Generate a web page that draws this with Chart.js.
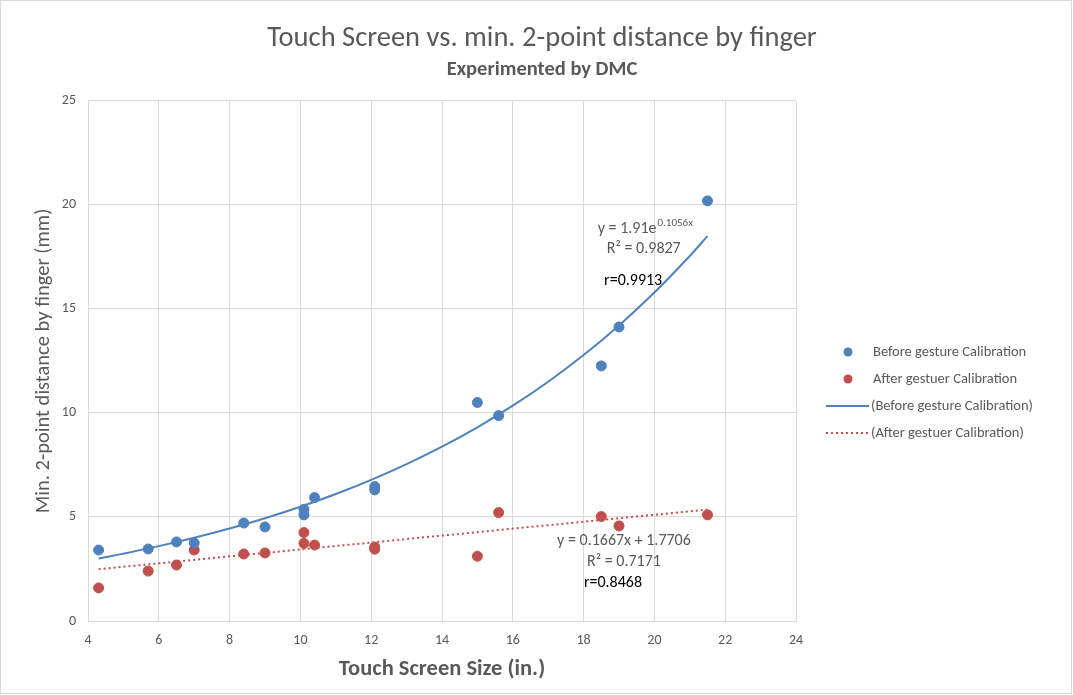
<!DOCTYPE html>
<html>
<head>
<meta charset="utf-8">
<script src="https://cdn.jsdelivr.net/npm/chart.js@4.4.1/dist/chart.umd.min.js"></script>
<style>
  html, body { margin: 0; padding: 0; background: #fff; }
  #wrap { width: 1073px; height: 695px; }
</style>
</head>
<body>
<div id="wrap"><canvas id="myChart" width="1073" height="695"></canvas></div>
<script>
const FONT = "Carlito, Lato, 'Noto Sans', sans-serif";

// screen sizes (in.) - same for both series
const sizes = [4.3, 5.7, 6.5, 7.0, 8.4, 9.0, 10.1, 10.1, 10.4, 12.1, 12.1, 15.0, 15.6, 18.5, 19.0, 21.5];
const beforeVals = [3.41, 3.46, 3.80, 3.75, 4.71, 4.52, 5.37, 5.10, 5.93, 6.46, 6.30, 10.50, 9.87, 12.26, 14.13, 20.19];
const afterVals = [1.59, 2.40, 2.69, 3.41, 3.22, 3.27, 4.25, 3.73, 3.65, 3.55, 3.45, 3.11, 5.21, 5.02, 4.57, 5.10];

const xTicks = [4, 6, 8, 10, 12, 14, 16, 18, 20, 22, 24];
const yTicks = [0, 5, 10, 15, 20, 25];

// trendline coefficients as printed on the chart
const expA = 1.91, expB = 0.1056;
const linM = 0.1667, linC = 1.7706;
const trendX = [4.3, 5, 6, 7, 8, 9, 10, 11, 12, 13, 14, 15, 16, 17, 18, 19, 20, 21, 21.5];

const blue = "#4f81bd";
const red = "#c0504d";
const gray = "#595959";

const toPts = (xs, ys) => xs.map((x, i) => ({ x: x, y: ys[i] }));

const expLine = trendX.map(x => ({ x: x, y: expA * Math.exp(expB * x) }));
const linLine = [4.3, 21.5].map(x => ({ x: x, y: linM * x + linC }));

const notes = [
  { x: 19.73, y: 18.85, text: "y = 1.91e", sup: "0.1056x", color: gray, size: 16 },
  { x: 19.7, y: 17.88, text: "R\u00b2 = 0.9827", color: gray, size: 16 },
  { x: 19.4, y: 16.35, text: "r=0.9913", color: "#000", size: 16 },
  { x: 19.14, y: 3.85, text: "y = 0.1667x + 1.7706", color: gray, size: 16 },
  { x: 19.14, y: 2.84, text: "R\u00b2 = 0.7171", color: gray, size: 16 },
  { x: 18.83, y: 1.83, text: "r=0.8468", color: "#000", size: 16 },
];

const legendItems = [
  { label: "Before gesture Calibration", kind: "dot", color: blue },
  { label: "After gestuer Calibration", kind: "dot", color: red },
  { label: "(Before gesture Calibration)", kind: "line", color: blue },
  { label: "(After gestuer Calibration)", kind: "dots", color: red },
];

const extras = {
  id: "extras",
  beforeDraw(chart) {
    const ctx = chart.ctx;
    ctx.save();
    ctx.fillStyle = "#fff";
    ctx.fillRect(0, 0, chart.width, chart.height);
    ctx.strokeStyle = "#d9d9d9";
    ctx.lineWidth = 1;
    ctx.strokeRect(0.5, 0.5, chart.width - 2, chart.height - 2);
    ctx.restore();
  },
  afterDatasetsDraw(chart) {
    const ctx = chart.ctx;
    const xs = chart.scales.x, ys = chart.scales.y;
    ctx.save();
    ctx.textBaseline = "middle";
    notes.forEach(n => {
      const px = xs.getPixelForValue(n.x);
      const py = ys.getPixelForValue(n.y);
      ctx.font = n.size + "px " + FONT;
      const w1 = ctx.measureText(n.text).width;
      let w2 = 0;
      if (n.sup) {
        ctx.font = "11px " + FONT;
        w2 = ctx.measureText(n.sup).width;
      }
      const left = px - (w1 + w2) / 2;
      ctx.fillStyle = n.color;
      ctx.textAlign = "left";
      ctx.font = n.size + "px " + FONT;
      ctx.fillText(n.text, left, py);
      if (n.sup) {
        ctx.font = "11px " + FONT;
        ctx.fillText(n.sup, left + w1 + 1, py - 6);
      }
    });
    ctx.restore();
  },
  afterDraw(chart) {
    const ctx = chart.ctx;
    ctx.save();
    ctx.font = "14.5px " + FONT;
    ctx.textBaseline = "middle";
    ctx.textAlign = "left";
    legendItems.forEach((it, i) => {
      const y = 352 + i * 27;
      if (it.kind === "dot") {
        ctx.fillStyle = it.color;
        ctx.beginPath();
        ctx.arc(848, y, 4.5, 0, Math.PI * 2);
        ctx.fill();
        ctx.fillStyle = gray;
        ctx.fillText(it.label, 873, y);
      } else {
        ctx.strokeStyle = it.color;
        ctx.lineWidth = 2;
        ctx.setLineDash(it.kind === "dots" ? [2, 3] : []);
        ctx.beginPath();
        ctx.moveTo(826, y);
        ctx.lineTo(869, y);
        ctx.stroke();
        ctx.setLineDash([]);
        ctx.fillStyle = gray;
        ctx.fillText(it.label, 871, y);
      }
    });
    ctx.restore();
  },
};

const config = {
  type: "scatter",
  data: {
    datasets: [
      {
        label: "Before gesture Calibration",
        data: toPts(sizes, beforeVals),
        backgroundColor: blue,
        borderColor: blue,
        pointRadius: 5,
        pointHoverRadius: 5,
        order: 1,
      },
      {
        label: "After gestuer Calibration",
        data: toPts(sizes, afterVals),
        backgroundColor: red,
        borderColor: red,
        pointRadius: 5,
        pointHoverRadius: 5,
        order: 1,
      },
      {
        type: "line",
        label: "(Before gesture Calibration)",
        data: expLine,
        borderColor: blue,
        borderWidth: 2,
        pointRadius: 0,
        tension: 0.4,
        fill: false,
        order: 2,
      },
      {
        type: "line",
        label: "(After gestuer Calibration)",
        data: linLine,
        borderColor: red,
        borderWidth: 2,
        borderDash: [2, 3],
        pointRadius: 0,
        fill: false,
        order: 2,
      },
    ],
  },
  options: {
    responsive: false,
    animation: false,
    layout: { padding: { left: 11, right: 0, top: 0, bottom: 0 } },
    plugins: {
      legend: { display: false },
      tooltip: { enabled: false },
      title: {
        display: true,
        text: "Touch Screen vs. min. 2-point distance by finger",
        color: gray,
        font: { family: FONT, size: 28.5, weight: "normal" },
        padding: { top: 22, bottom: 0 },
      },
      subtitle: {
        display: true,
        text: "Experimented by DMC",
        color: gray,
        font: { family: FONT, size: 20.5, weight: "bold" },
        padding: { top: 1, bottom: 19 },
      },
    },
    scales: {
      x: {
        type: "linear",
        min: 4,
        max: 24,
        afterBuildTicks: s => { s.ticks = xTicks.map(v => ({ value: v })); },
        ticks: { color: gray, font: { family: FONT, size: 14 }, padding: 11 },
        grid: { color: "#d9d9d9", drawTicks: false },
        border: { color: "#d9d9d9" },
        title: {
          display: true,
          text: "Touch Screen Size (in.)",
          color: gray,
          font: { family: FONT, size: 22.5, weight: "bold" },
          padding: { top: 0, bottom: 12 },
        },
        afterFit: s => { s.height = 74; },
      },
      y: {
        type: "linear",
        min: 0,
        max: 25,
        afterBuildTicks: s => { s.ticks = yTicks.map(v => ({ value: v })); },
        ticks: { color: gray, font: { family: FONT, size: 14 }, padding: 12 },
        grid: { color: "#d9d9d9", drawTicks: false },
        border: { color: "#d9d9d9" },
        title: {
          display: true,
          text: "Min. 2-point distance by finger (mm)",
          color: gray,
          font: { family: FONT, size: 20.5 },
          padding: { top: 21, bottom: 0 },
        },
        afterFit: s => { s.width = 77; },
      },
      spacer: {
        type: "linear",
        position: "right",
        display: true,
        grid: { display: false, drawTicks: false },
        border: { display: false },
        ticks: { display: false },
        afterFit: s => { s.width = 277; },
      },
    },
  },
  plugins: [extras],
};

const myChart = new Chart(document.getElementById("myChart"), config);
</script>
</body>
</html>
